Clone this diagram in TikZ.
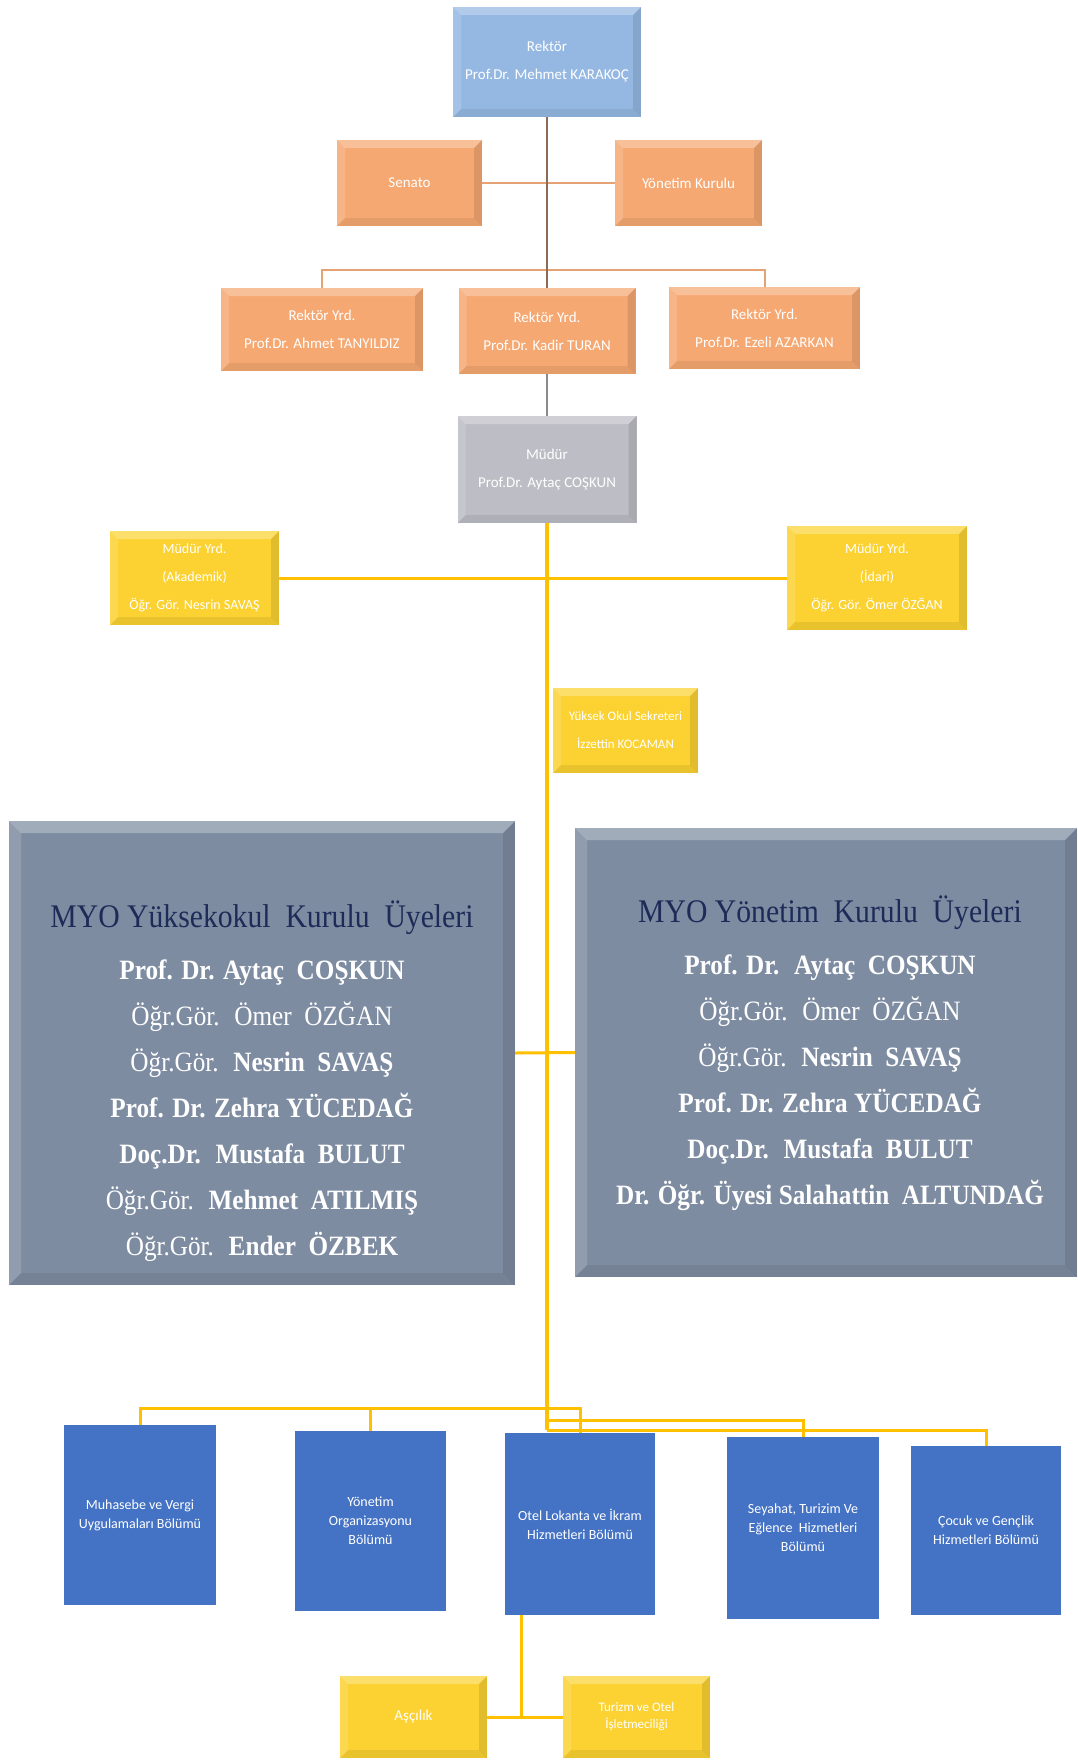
\documentclass[tikz,border=0pt]{standalone}
\usepackage{fontspec}
\setmainfont{Liberation Serif}[FakeStretch=0.9]
\newfontfamily\carlfont{Carlito}
\usetikzlibrary{calc}
\definecolor{rekblue}{HTML}{95B8E3}
\definecolor{orng}{HTML}{F6A872}
\definecolor{mudgray}{HTML}{BDBDC5}
\definecolor{yel}{HTML}{FBD232}
\definecolor{slate}{HTML}{7E8CA2}
\definecolor{dept}{HTML}{4472C4}
\definecolor{navy}{HTML}{1E2B58}
\definecolor{brownline}{HTML}{8F6B55}
\definecolor{orline}{HTML}{E5A274}
\definecolor{yline}{HTML}{FFC000}
\definecolor{grayline}{HTML}{8A8A8A}
\tikzset{
  bevel/.style={path picture={
    \path (path picture bounding box.north west) coordinate (bA)
          (path picture bounding box.north east) coordinate (bB)
          (path picture bounding box.south east) coordinate (bC)
          (path picture bounding box.south west) coordinate (bD);
    \fill[white,opacity=.28] (bA) -- (bB) -- ([xshift=-#1,yshift=-#1]bB) -- ([xshift=#1,yshift=-#1]bA) -- cycle;
    \fill[white,opacity=.15] (bA) -- (bD) -- ([xshift=#1,yshift=#1]bD) -- ([xshift=#1,yshift=-#1]bA) -- cycle;
    \fill[black,opacity=.07] (bD) -- (bC) -- ([xshift=-#1,yshift=#1]bC) -- ([xshift=#1,yshift=#1]bD) -- cycle;
    \fill[black,opacity=.10] (bB) -- (bC) -- ([xshift=-#1,yshift=#1]bC) -- ([xshift=-#1,yshift=-#1]bB) -- cycle;
  }},
  bevel/.default=8pt,
  box/.style={draw=none, inner sep=1pt, align=center, text=white,
    font=\carlfont\fontsize{15}{28}\selectfont},
  rekbox/.style={box, fill=rekblue, bevel},
  orbox/.style={box, fill=orng, bevel},
  mudbox/.style={box, fill=mudgray, bevel},
  yelbox/.style={box, fill=yel, bevel},
  bigbox/.style={fill=slate, bevel=12pt, draw=none},
  bigtext/.style={align=center, text=white, inner sep=0pt,
    font=\fontsize{28}{46}\selectfont},
  deptbox/.style={box, fill=dept, font=\carlfont\fontsize{14}{19}\selectfont},
  brn/.style={draw=brownline, line width=2pt},
  orl/.style={draw=orline, line width=2pt},
  gln/.style={draw=grayline, line width=2pt},
  ytrunk/.style={draw=yline, line width=4.5pt},
  yl/.style={draw=yline, line width=3pt},
}
\begin{document}
\begin{tikzpicture}[x=1pt,y=-1pt]
\fill[white] (0,0) rectangle (1078,1763);
\useasboundingbox (0,0) rectangle (1078,1763);

\coordinate (rybar) at (547,270);
\coordinate (tA) at (547,1408);
\coordinate (tB) at (547,1420);
\coordinate (tC) at (547,1430);
\coordinate (ajoin) at (521,1717);

% nodes
\node[rekbox, minimum width=188pt, minimum height=110pt] (rek) at (547,62) {Rektör\\Prof.Dr. Mehmet KARAKOÇ};
\node[orbox, minimum width=145pt, minimum height=86pt] (sen) at (409.5,183) {Senato};
\node[orbox, minimum width=147pt, minimum height=86pt] (yk) at (688.5,183) {Yönetim Kurulu};
\node[orbox, minimum width=202pt, minimum height=83pt] (ry1) at (322,329.5) {Rektör Yrd.\\Prof.Dr. Ahmet TANYILDIZ};
\node[orbox, minimum width=177pt, minimum height=86pt] (ry2) at (547,331) {Rektör Yrd.\\Prof.Dr. Kadir TURAN};
\node[orbox, minimum width=191pt, minimum height=82pt] (ry3) at (764.5,328) {Rektör Yrd.\\Prof.Dr. Ezeli AZARKAN};
\node[mudbox, minimum width=179pt, minimum height=107pt] (mud) at (547,469.5) {Müdür\\Prof.Dr. Aytaç COŞKUN};
\node[yelbox, minimum width=169pt, minimum height=94pt, font=\carlfont\fontsize{14}{28}\selectfont] (my1) at (194.5,578) {Müdür Yrd.\\(Akademik)\\Öğr. Gör. Nesrin SAVAŞ};
\node[yelbox, minimum width=180pt, minimum height=104pt, font=\carlfont\fontsize{14}{28}\selectfont] (my2) at (877,578) {Müdür Yrd.\\(İdari)\\Öğr. Gör. Ömer ÖZĞAN};
\node[yelbox, minimum width=145pt, minimum height=85pt, font=\carlfont\fontsize{13}{28}\selectfont] (sek) at (625.5,730.5) {Yüksek Okul Sekreteri\\İzzettin KOCAMAN};

\node[bigbox, minimum width=506pt, minimum height=464pt] (g1) at (262,1053) {};
\node[bigbox, minimum width=502pt, minimum height=449pt] (g2) at (826,1052.5) {};

\node[bigtext] (g1t) at (262,1081) {{\color{navy}\fontsize{33}{46}\selectfont MYO Yüksekokul~ Kurulu~ Üyeleri}\\[6pt]
\textbf{Prof. Dr. Aytaç~ COŞKUN}\\
Öğr.Gör.~ Ömer~ ÖZĞAN\\
Öğr.Gör.~ \textbf{Nesrin~ SAVAŞ}\\
\textbf{Prof. Dr. Zehra YÜCEDAĞ}\\
\textbf{Doç.Dr.~ Mustafa~ BULUT}\\
Öğr.Gör.~ \textbf{Mehmet~ ATILMIŞ}\\
Öğr.Gör.~ \textbf{Ender~ ÖZBEK}};

\node[bigtext] (g2t) at (830,1053) {{\color{navy}\fontsize{33}{46}\selectfont MYO Yönetim~ Kurulu~ Üyeleri}\\[6pt]
\textbf{Prof. Dr.~ Aytaç~ COŞKUN}\\
Öğr.Gör.~ Ömer~ ÖZĞAN\\
Öğr.Gör.~ \textbf{Nesrin~ SAVAŞ}\\
\textbf{Prof. Dr. Zehra YÜCEDAĞ}\\
\textbf{Doç.Dr.~ Mustafa~ BULUT}\\
\textbf{Dr. Öğr. Üyesi Salahattin~ ALTUNDAĞ}};

\node[deptbox, minimum width=152pt, minimum height=180pt] (d1) at (140,1515) {Muhasebe ve Vergi\\Uygulamaları Bölümü};
\node[deptbox, minimum width=151pt, minimum height=180pt] (d2) at (370.5,1521) {Yönetim\\Organizasyonu\\Bölümü};
\node[deptbox, minimum width=150pt, minimum height=182pt] (d3) at (580,1524) {Otel Lokanta ve İkram\\Hizmetleri Bölümü};
\node[deptbox, minimum width=152pt, minimum height=182pt] (d4) at (803,1528) {Seyahat, Turizim Ve\\Eğlence~ Hizmetleri\\Bölümü};
\node[deptbox, minimum width=150pt, minimum height=169pt] (d5) at (986,1530.5) {Çocuk ve Gençlik\\Hizmetleri Bölümü};

\node[yelbox, minimum width=147pt, minimum height=82pt] (a1) at (413.5,1717) {Aşçılık};
\node[yelbox, minimum width=147pt, minimum height=82pt, font=\carlfont\fontsize{13}{17}\selectfont] (a2) at (636.5,1717) {Turizm ve Otel\\İşletmeciliği};

% connectors
\draw[orl] (sen.east) -- (yk.west);
\draw[orl] (ry1.north) -- (ry1.north |- rybar) -- (ry3.north |- rybar) -- (ry3.north);
\draw[brn] (rek.south) -- (ry2.north);
\draw[gln] (ry2.south) -- (mud.north);
\draw[yl] (my1.east) -- (my2.west);
\draw[yl] (g1.east) -- (g2.west);
\draw[yl] (tA) -| (d1.north);
\draw[yl] (tA) -| (d2.north);
\draw[yl] (tA) -| (d3.north);
\draw[yl] (tB) -| (d4.north);
\draw[yl] (tC) -| (d5.north);
\draw[ytrunk] (mud.south) -- (tC);
\draw[yl] (ajoin |- d3.south) -- (ajoin);
\draw[yl] (a1.east) -- (a2.west);
\end{tikzpicture}
\end{document}
